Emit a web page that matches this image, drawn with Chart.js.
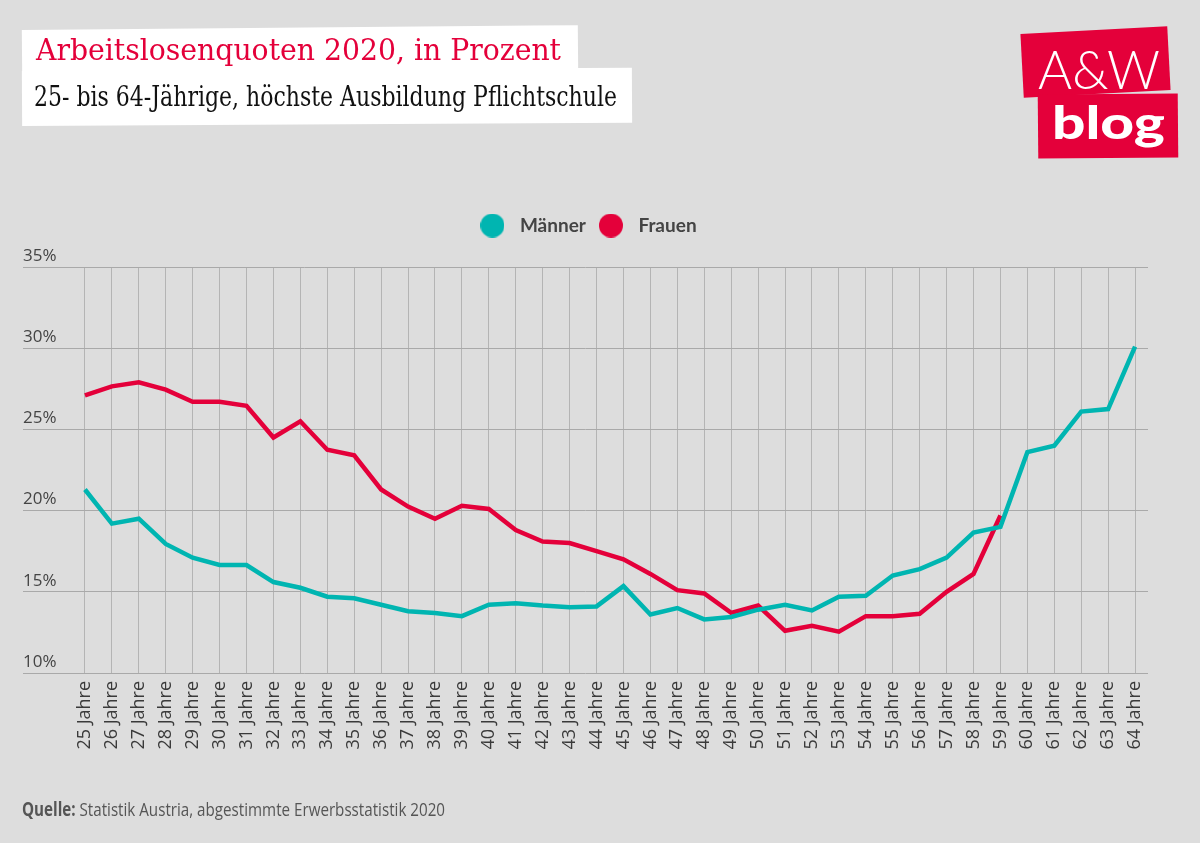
<!DOCTYPE html>
<html lang="de">
<head>
<meta charset="utf-8">
<title>Arbeitslosenquoten 2020</title>
<script src="https://cdn.jsdelivr.net/npm/chart.js@4"></script>
<style>
  html, body { margin: 0; padding: 0; background: #dddddd; }
  body { width: 1200px; height: 843px; position: relative; overflow: hidden; }
  #c { position: absolute; left: 0; top: 0; }
  .box { position: absolute; background: #fff; transform-origin: left center; }
  .fit { position: absolute; white-space: nowrap; transform-origin: left top; }
  #t-box { left: 22px; top: 30px; width: 556px; height: 44px; transform: rotate(-0.5deg); }
  #s-box { left: 22px; top: 71px; width: 610px; height: 55px; transform: rotate(-0.3deg); }
  #title { left: 36px; top: 32px; font: 30px "DejaVu Serif", serif; color: #e4003a; }
  #sub { left: 34px; top: 81px; font: 27px "DejaVu Serif", serif; color: #111; }
  .logo { position: absolute; background: #e4003a; color: #fff; }
  #logo1 { left: 1022px; top: 30px; width: 147px; height: 64px; transform: rotate(-3deg); }
  #logo2 { left: 1038px; top: 94px; width: 140px; height: 64px; transform: rotate(-0.5deg); }
  #aw { left: 1038px; top: 36px; font: 300 54px Lato, sans-serif; color: #fff; }
  #blog { left: 1052px; top: 94px; font: 900 46px Lato, sans-serif; color: #fff; }
  #src { left: 22px; top: 796px; font: 19px "Open Sans", sans-serif; color: #555; }
  #src b { font-weight: 700; color: #555; }
</style>
</head>
<body>
<canvas id="c" width="1200" height="843"></canvas>

<div class="box" id="t-box"></div>
<div class="box" id="s-box"></div>
<div class="fit" id="title" data-w="525">Arbeitslosenquoten 2020, in Prozent</div>
<div class="fit" id="sub" data-w="583">25- bis 64-Jährige, höchste Ausbildung Pflichtschule</div>

<div class="logo" id="logo1"></div>
<div class="logo" id="logo2"></div>
<div class="fit" id="aw" data-w="122">A&amp;W</div>
<div class="fit" id="blog" data-w="113">blog</div>

<div class="fit" id="src" data-w="423"><b>Quelle:</b> Statistik Austria, abgestimmte Erwerbsstatistik 2020</div>

<script>
  /* ── Daten ── */
  const ages = ['25 Jahre', '26 Jahre', '27 Jahre', '28 Jahre', '29 Jahre', '30 Jahre', '31 Jahre', '32 Jahre',
    '33 Jahre', '34 Jahre', '35 Jahre', '36 Jahre', '37 Jahre', '38 Jahre', '39 Jahre', '40 Jahre', '41 Jahre',
    '42 Jahre', '43 Jahre', '44 Jahre', '45 Jahre', '46 Jahre', '47 Jahre', '48 Jahre', '49 Jahre', '50 Jahre',
    '51 Jahre', '52 Jahre', '53 Jahre', '54 Jahre', '55 Jahre', '56 Jahre', '57 Jahre', '58 Jahre', '59 Jahre',
    '60 Jahre', '61 Jahre', '62 Jahre', '63 Jahre', '64 Jahre'];

  const maenner = [21.3, 19.2, 19.5, 17.95, 17.1, 16.65, 16.65, 15.6, 15.25, 14.7, 14.6, 14.2, 13.8, 13.7, 13.5,
    14.2, 14.3, 14.15, 14.05, 14.1, 15.35, 13.6, 14.0, 13.3, 13.45, 13.9, 14.2, 13.85, 14.7, 14.75,
    16.0, 16.4, 17.1, 18.65, 19.0, 23.6, 24.0, 26.1, 26.25, 30.1];

  // Frauen: nur bis 59 Jahre
  const frauen = [27.1, 27.65, 27.9, 27.45, 26.7, 26.7, 26.45, 24.5, 25.5, 23.75, 23.4, 21.3, 20.25, 19.5, 20.3,
    20.1, 18.8, 18.1, 18.0, 17.5, 17.0, 16.1, 15.1, 14.9, 13.7, 14.15, 12.6, 12.9, 12.55, 13.5,
    13.5, 13.65, 15.0, 16.1, 19.7];

  const yTicks = [10, 15, 20, 25, 30, 35];
  const seriesNames = ['Männer', 'Frauen'];
  const seriesColors = ['#00b5b1', '#e4003a'];

  /* ── Text auf Zielbreite stauchen ── */
  function fitText() {
    document.querySelectorAll('.fit').forEach(function (el) {
      const target = parseFloat(el.dataset.w);
      const w = el.getBoundingClientRect().width;
      if (w > 0) el.style.transform = 'scaleX(' + (target / w) + ')';
    });
  }

  function toPoints(arr) {
    return arr.map(function (v, i) { return { x: i, y: v }; });
  }

  // runder Punkt für die Legende (als Bild, damit der Abstand zum Text stimmt)
  function dot(color) {
    const c = document.createElement('canvas');
    c.width = 24; c.height = 24;
    const g = c.getContext('2d');
    g.fillStyle = color;
    g.beginPath(); g.arc(12, 12, 12, 0, Math.PI * 2); g.fill();
    return c;
  }

  // Legende höher machen, damit der Plot bei 35% richtig beginnt
  const legendSpace = {
    id: 'legendSpace',
    afterInit: function (chart) {
      const lg = chart.legend;
      if (!lg) return;
      const orig = lg.fit;
      lg.fit = function () { orig.call(this); this.height = 58; };
    }
  };

  function draw() {
    fitText();
    const ctx = document.getElementById('c').getContext('2d');
    new Chart(ctx, {
      type: 'line',
      data: {
        datasets: [
          { label: seriesNames[0], data: toPoints(maenner), borderColor: seriesColors[0], backgroundColor: seriesColors[0], pointStyle: dot(seriesColors[0]) },
          { label: seriesNames[1], data: toPoints(frauen), borderColor: seriesColors[1], backgroundColor: seriesColors[1], pointStyle: dot(seriesColors[1]) },
        ],
      },
      options: {
        responsive: false,
        animation: false,
        devicePixelRatio: 1,
        layout: { padding: { top: 209, left: 23, right: 52, bottom: 0 } },
        elements: {
          line: { borderWidth: 4.5, tension: 0, fill: false },
          point: { radius: 0, hoverRadius: 0 },
        },
        plugins: {
          tooltip: { enabled: false },
          legend: {
            display: true,
            position: 'top',
            labels: {
              usePointStyle: true,
              pointStyleWidth: 36,
              padding: 7,
              color: '#444',
              font: { family: 'Lato', size: 19, weight: 'bold' },
            },
          },
        },
        scales: {
          x: {
            type: 'linear',
            min: -2.3,
            max: 39.48,
            afterBuildTicks: function (scale) {
              scale.ticks = ages.map(function (_, i) { return { value: i }; });
            },
            afterFit: function (scale) { scale.height = 170; },
            grid: { color: '#b4b4b4', lineWidth: 1, drawTicks: false },
            border: { display: false },
            ticks: {
              autoSkip: false,
              minRotation: 90,
              maxRotation: 90,
              padding: 8,
              color: '#3a3a3a',
              font: { family: 'Open Sans', size: 18 },
              callback: function (v) { return ages[v] !== undefined ? ages[v] : ''; },
            },
          },
          y: {
            min: yTicks[0],
            max: yTicks[yTicks.length - 1],
            afterBuildTicks: function (scale) {
              scale.ticks = yTicks.map(function (v) { return { value: v }; });
            },
            afterFit: function (scale) { scale.width = 0; },
            grid: { color: '#a9a9a9', lineWidth: 1, drawTicks: false },
            border: { display: false },
            ticks: {
              mirror: true,
              padding: 0,
              labelOffset: -11,
              color: '#444',
              font: { family: 'Open Sans', size: 17 },
              callback: function (v) { return v + '%'; },
            },
          },
        },
      },
      plugins: [legendSpace],
    });
  }

  if (document.fonts && document.fonts.ready) document.fonts.ready.then(draw);
  else draw();
</script>
</body>
</html>
